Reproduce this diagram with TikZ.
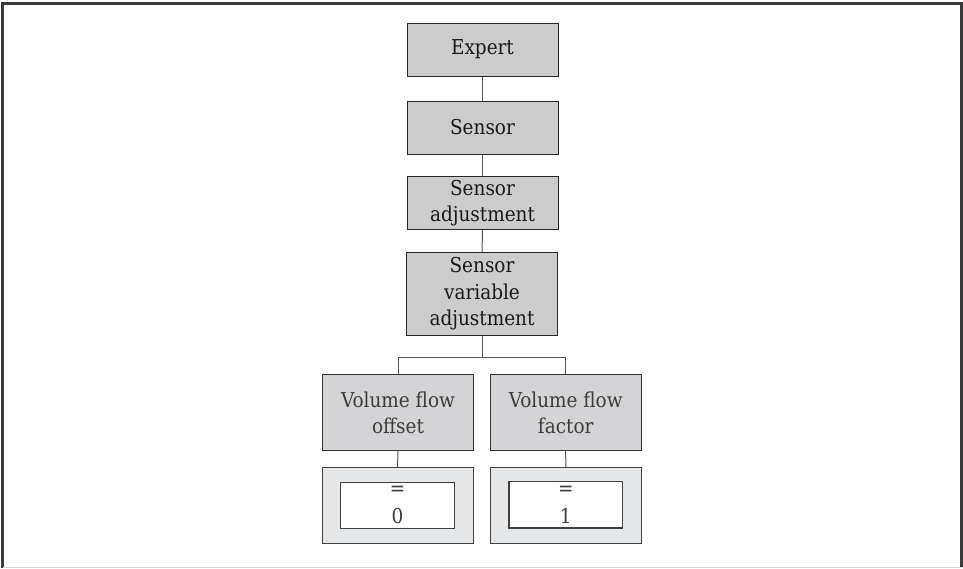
\documentclass[tikz,border=0pt]{standalone}
\usepackage{fontspec}
\setmainfont{DejaVu Serif Condensed}
\begin{document}
\definecolor{boxfill}{HTML}{CCCCCC}
\definecolor{volfill}{HTML}{D4D4D6}
\definecolor{outfill}{HTML}{E6E7E8}
\definecolor{linecol}{HTML}{555555}
\definecolor{framecol}{HTML}{3A3A3A}
\definecolor{txtgray}{HTML}{3C3C3C}
\begin{tikzpicture}[x=1pt,y=1pt,
  menubox/.style={draw=black!85, line width=1pt, fill=boxfill, minimum width=151pt, align=center, inner sep=0pt, font=\fontsize{20.5}{26.5}\selectfont, text=black!90},
  volbox/.style={draw=black!80, line width=1pt, fill=volfill, minimum width=151pt, minimum height=75.6pt, align=center, inner sep=0pt, font=\fontsize{20.5}{26}\selectfont, text=txtgray},
  outbox/.style={draw=black!75, line width=1pt, fill=outfill, minimum width=151pt, minimum height=75.7pt, inner sep=0pt},
  valbox/.style={draw=black!75, line width=1.2pt, fill=white, minimum width=113.6pt, minimum height=46.4pt, align=center, inner sep=0pt, font=\fontsize{20.5}{28}\selectfont, text=txtgray},
  conn/.style={draw=linecol, line width=1pt}]
\useasboundingbox (0,0) rectangle (963,-568);
% frame
\draw[framecol, line width=2.2pt] (2.5,-568) -- (2.5,-3.5) -- (961.5,-3.5) -- (961.5,-566.5);
\draw[black!15, line width=1pt] (2.5,-567) -- (961.5,-567);
% nodes
\node[menubox, minimum height=53pt] (exp) at (482.5,-49.5) {Expert};
\node[menubox, minimum height=53pt] (sen) at (482.5,-127.5) {Sensor};
\node[menubox, minimum height=53.4pt] (adj) at (482.5,-203) {Sensor\\adjustment};
\node[menubox, minimum height=83pt] (sva) at (482,-293.8) {Sensor\\variable\\adjustment};
\node[volbox] (off) at (398,-412.5) {Volume flow\\offset};
\node[volbox] (fac) at (565.7,-412.5) {Volume flow\\factor};
\node[outbox] (offo) at (397.5,-505.8) {};
\node[outbox] (faco) at (565.8,-505.2) {};
\node[valbox] (offv) at (397.5,-505.5) {=\\0};
\node[valbox] (facv) at (565.8,-504.7) {=\\1};
% connectors
\draw[conn] (exp.south) -- (sen.north);
\draw[conn] (sen.south) -- (adj.north);
\draw[conn] (adj.south) -- (sva.north);
\draw[conn] (sva.south) -- ++(0,-21.7) coordinate (bar) -| (off.north);
\draw[conn] (bar) -| (fac.north);
\draw[conn] (off.south) -- (offo.north);
\draw[conn] (fac.south) -- (faco.north);
\end{tikzpicture}
\end{document}
